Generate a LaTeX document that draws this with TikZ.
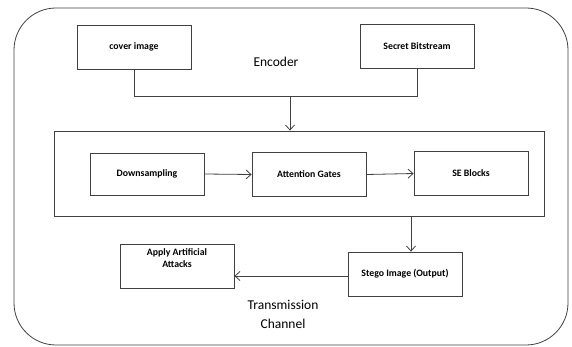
\documentclass[tikz,border=0pt]{standalone}
\usepackage{fontspec}
\setmainfont{Carlito}
\usepackage{tikz}
\usetikzlibrary{arrows.meta}
\definecolor{edge}{RGB}{64, 64, 64}

\begin{document}
\begin{tikzpicture}[x=1pt, y=-1pt,
  block/.style={draw=edge, line width=0.8, minimum width=114, minimum height=44,
    font=\fontsize{9.8}{12}\selectfont\bfseries, align=center, inner sep=2},
  flow/.style={-{Straight Barb[length=5, width=9]}, edge, line width=0.8},
  wire/.style={edge, line width=0.8}]

  \useasboundingbox (0, 0) rectangle (572, 347);

  % outer frame
  \draw[edge, line width=0.8, rounded corners=42] (14, 8) rectangle (568, 345);

  \node[block] (cover) at (134, 47) {cover image};
  \node[block] (secret) at (417, 46.5) {Secret Bitstream};
  \node[font=\fontsize{13.5}{16}\selectfont] (enc) at (276, 62) {Encoder};

  \node[draw=edge, line width=0.8, minimum width=490, minimum height=85] (mid) at (299, 173.5) {};
  \node[block, minimum height=42] (down) at (147, 174) {Downsampling};
  \node[block] (attn) at (309, 174.5) {Attention Gates};
  \node[block] (se) at (471, 173.5) {SE Blocks};

  \node[block] (stego) at (405, 274) {Stego Image (Output)};
  \node[block] (attack) at (177, 266) {Apply Artificial\\Attacks\\[4pt]};
  \node[font=\fontsize{13.5}{19}\selectfont, align=center] (chan) at (283, 314) {Transmission\\Channel};

  \coordinate (join) at (290, 96);
  \draw[wire] (cover.south) |- (join);
  \draw[wire] (secret.south) |- (join);
  \draw[flow] (join) -- (join |- mid.north);

  \draw[flow] (down.east) -- (attn.west);
  \draw[flow] (attn.east) -- (se.west);

  \draw[flow] ([xshift=6]stego.north |- mid.south) -- ([xshift=6]stego.north);
  \draw[flow] ([yshift=-2]stego.west) -- ([yshift=-2]stego.west -| attack.east);

\end{tikzpicture}
\end{document}
